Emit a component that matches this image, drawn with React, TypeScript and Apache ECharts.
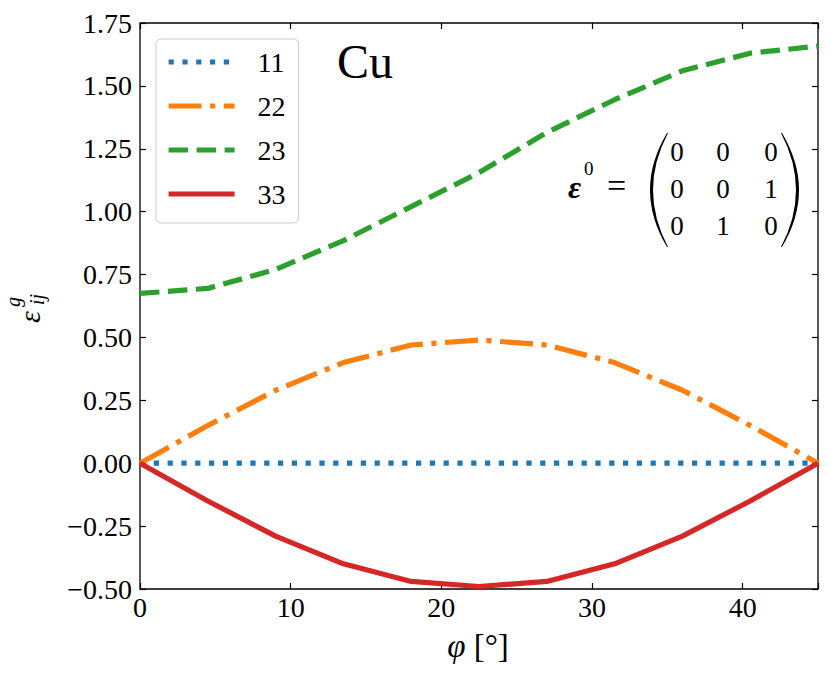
import React, { useEffect, useRef } from "react";
import * as echarts from "echarts";

const phi = [0, 4.5, 9, 13.5, 18, 22.5, 27, 31.5, 36, 40.5, 45];
const e11 = [0, 0, 0, 0, 0, 0, 0, 0, 0, 0, 0];
const e22 = [0, 0.15, 0.29, 0.4, 0.47, 0.49, 0.47, 0.4, 0.29, 0.15, 0];
const e23 = [0.675, 0.695, 0.77, 0.885, 1.02, 1.155, 1.315, 1.445, 1.56, 1.63, 1.658];
const e33 = [0, -0.15, -0.29, -0.4, -0.47, -0.49, -0.47, -0.4, -0.29, -0.15, 0];
const seriesNames = ["11", "22", "23", "33"];
const matrixRows = [
  ["0", "0", "0"],
  ["0", "0", "1"],
  ["0", "1", "0"],
];

const FONT = '"Liberation Serif", "DejaVu Serif", serif';

echarts.graphic.registerShape(
  "lparen",
  echarts.graphic.extendPath("M17 0 Q-17 57 17 114 L18 114 Q-12 57 18 0 Z", {})
);
echarts.graphic.registerShape(
  "rparen",
  echarts.graphic.extendPath("M0 0 Q34 57 0 114 L-1 114 Q29 57 -1 0 Z", {})
);

function pairs(ys: number[]) {
  return phi.map((x, i) => [x, ys[i]]);
}

export default function App() {
  const ref = useRef<HTMLDivElement>(null);
  useEffect(() => {
    document.body.style.margin = "0";
    const chart = echarts.init(ref.current!, null, { renderer: "svg" });
    const tickStyle = { color: "#000", width: 1.2 };
    const lw = 5.2;
    const mk = (name: string, ys: number[], color: string, type: any) => ({
      name,
      type: "line",
      data: pairs(ys),
      symbol: "none",
      showSymbol: false,
      lineStyle: { color, width: lw, type, cap: "butt", join: "round" },
      itemStyle: { color },
      emphasis: { disabled: true },
    });
    const matrixTexts: any[] = [];
    const colX = [677, 723, 771];
    const rowY = [151.5, 188.5, 226];
    matrixRows.forEach((row, r) =>
      row.forEach((v, c) =>
        matrixTexts.push({
          type: "text",
          x: colX[c],
          y: rowY[r],
          style: { text: v, fontSize: 27, fontFamily: FONT, fill: "#000", align: "center", verticalAlign: "middle" },
        })
      )
    );
    const option: any = {
      animation: false,
      grid: {
        left: 140,
        right: 13,
        top: 23,
        bottom: 88,
        show: true,
        borderColor: "#000",
        borderWidth: 1.3,
        backgroundColor: "transparent",
        outerBoundsMode: "none",
        containLabel: false,
      },
      xAxis: [
        {
          type: "value",
          min: 0,
          max: 45,
          interval: 10,
          axisLine: { show: false, onZero: false },
          axisTick: { inside: true, length: 6, lineStyle: tickStyle },
          axisLabel: {
            formatter: (v: number) => (v % 10 === 0 ? String(v) : ""),
            fontSize: 28,
            fontFamily: FONT,
            color: "#000",
            margin: 4,
          },
          splitLine: { show: false },
        },
        {
          type: "value",
          position: "top",
          min: 0,
          max: 45,
          interval: 10,
          axisLine: { show: false, onZero: false },
          axisTick: { inside: true, length: 6, lineStyle: tickStyle },
          axisLabel: { show: false },
          splitLine: { show: false },
        },
      ],
      yAxis: [
        {
          type: "value",
          min: -0.5,
          max: 1.75,
          interval: 0.25,
          axisLine: { show: false, onZero: false },
          axisTick: { inside: true, length: 6, lineStyle: tickStyle },
          axisLabel: {
            formatter: (v: number) => (v < 0 ? "\u2212" : "") + Math.abs(v).toFixed(2),
            fontSize: 28,
            fontFamily: FONT,
            color: "#000",
            margin: 8,
          },
          splitLine: { show: false },
        },
        {
          type: "value",
          position: "right",
          min: -0.5,
          max: 1.75,
          interval: 0.25,
          axisLine: { show: false, onZero: false },
          axisTick: { inside: true, length: 6, lineStyle: tickStyle },
          axisLabel: { show: false },
          splitLine: { show: false },
        },
      ],
      legend: {
        data: seriesNames,
        orient: "vertical",
        left: 156,
        top: 39,
        itemWidth: 66,
        itemHeight: 14,
        itemGap: 16,
        padding: [9, 13, 15, 10],
        backgroundColor: "rgba(255,255,255,0.8)",
        borderColor: "#cccccc",
        borderWidth: 1,
        borderRadius: 5,
        selectedMode: false,
        itemStyle: { opacity: 0 },
        lineStyle: { width: lw, cap: "butt" },
        textStyle: { fontSize: 28, fontFamily: FONT, color: "#000", padding: [0, 0, 0, 18] },
      },
      series: [
        mk(seriesNames[0], e11, "#1f77b4", [5.2, 8.6]),
        mk(seriesNames[1], e22, "#ff7f0e", [33, 8.5, 5.2, 8.5]),
        mk(seriesNames[2], e23, "#2ca02c", [19.5, 8.5]),
        mk(seriesNames[3], e33, "#d62728", "solid"),
      ],
      graphic: [
        {
          type: "text",
          x: 337,
          y: 61.5,
          style: { text: "Cu", fontSize: 48, fontFamily: FONT, fill: "#000", align: "left", verticalAlign: "middle" },
        },
        {
          type: "text",
          x: 568,
          y: 187,
          style: {
            text: "\u03b5",
            fontSize: 32,
            fontWeight: "bold",
            fontStyle: "italic",
            fontFamily: FONT,
            fill: "#000",
            align: "left",
            verticalAlign: "middle",
          },
        },
        {
          type: "text",
          x: 584,
          y: 168,
          style: { text: "0", fontSize: 19, fontFamily: FONT, fill: "#000", align: "left", verticalAlign: "middle" },
        },
        {
          type: "text",
          x: 607,
          y: 185,
          style: { text: "=", fontSize: 34, fontFamily: FONT, fill: "#000", align: "left", verticalAlign: "middle" },
        },
        { type: "lparen", x: 650, y: 133, style: { fill: "#000" } },
        { type: "rparen", x: 782, y: 133, style: { fill: "#000" } },
        ...matrixTexts,
        {
          type: "text",
          x: 478,
          y: 646,
          style: {
            text: "{i|\u03c6} [\u00b0]",
            fontSize: 33,
            fontFamily: FONT,
            fill: "#000",
            align: "center",
            verticalAlign: "middle",
            rich: { i: { fontStyle: "italic", fontSize: 33, fontFamily: FONT, fill: "#000" } },
          },
        },
        {
          type: "group",
          x: 40,
          y: 323,
          rotation: Math.PI / 2,
          children: [
            {
              type: "text",
              x: 0,
              y: -10.1,
              style: { text: "\u03b5", fontSize: 30, fontStyle: "italic", fontFamily: FONT, fill: "#000", align: "left", verticalAlign: "middle" },
            },
            {
              type: "text",
              x: 16,
              y: -27.5,
              style: { text: "g", fontSize: 20, fontStyle: "italic", fontFamily: FONT, fill: "#000", align: "left", verticalAlign: "middle" },
            },
            {
              type: "text",
              x: 18,
              y: -2.75,
              style: { text: "ij", fontSize: 20, fontStyle: "italic", fontFamily: FONT, fill: "#000", align: "left", verticalAlign: "middle" },
            },
          ],
        },
      ],
    };
    chart.setOption(option);
    return () => chart.dispose();
  }, []);
  return (
    <div
      ref={ref}
      style={{ position: "fixed", left: 0, top: 0, width: 831, height: 677, background: "#fff" }}
    />
  );
}
